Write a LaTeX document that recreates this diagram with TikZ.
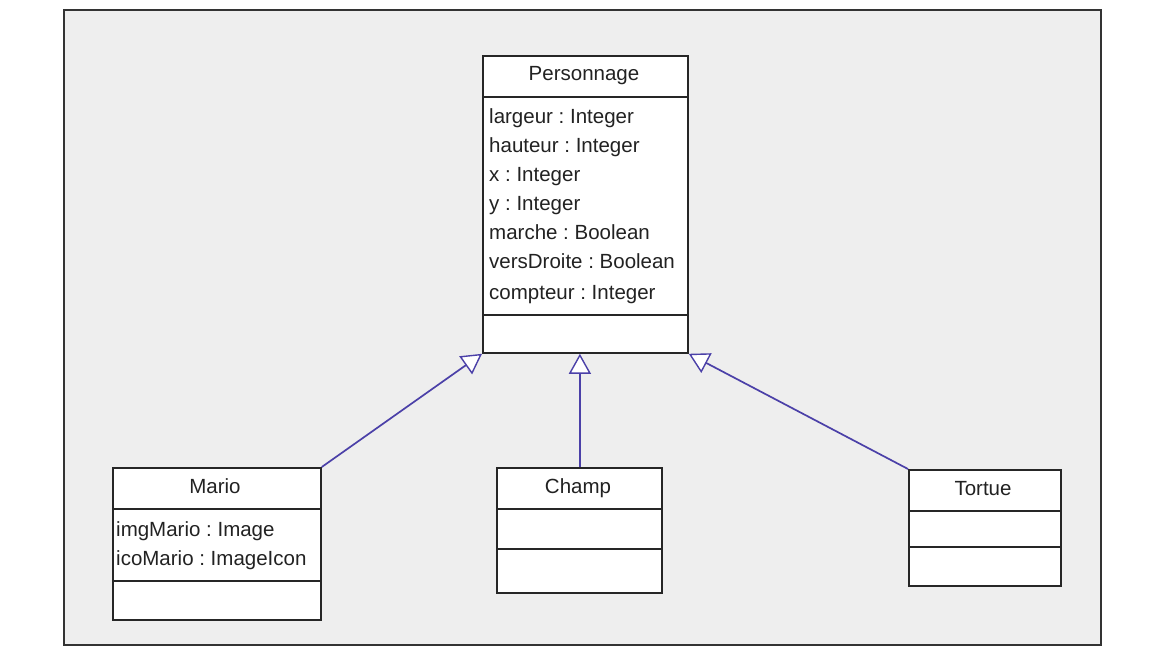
\documentclass[tikz,border=0pt]{standalone}
\usepackage{fontspec}
\setmainfont{Liberation Sans}
\usetikzlibrary{arrows.meta,calc}
\definecolor{panel}{HTML}{EEEEEE}
\definecolor{txt}{HTML}{222222}
\definecolor{link}{HTML}{4B40A8}
\frenchspacing
\tikzset{
  umlbox/.style={draw=black!85, line width=1.8pt, fill=white, anchor=north west, inner sep=0pt},
  divider/.style={draw=black!85, line width=1.6pt},
  title/.style={text=txt, font=\fontsize{20.5}{24}\selectfont, anchor=base, inner sep=0pt},
  attr/.style={text=txt, font=\fontsize{20.5}{24}\selectfont, anchor=base west, inner sep=0pt},
  inherit/.style={draw=link, line width=1.7pt, -{Triangle[length=20pt, width=22pt, fill=white, line width=1.4pt]}}
}
\begin{document}
\begin{tikzpicture}[x=1pt,y=-1pt]
\useasboundingbox (0,0) rectangle (1167,652);
\fill[white] (0,0) rectangle (1167,652);
\draw[fill=panel, draw=black!80, line width=2pt] (64,10) rectangle (1101,645);

% Personnage
\node[umlbox, minimum width=205pt, minimum height=297pt] (pers) at (482,55) {};
\draw[divider] ($(pers.north west)+(0,42)$) -- ($(pers.north east)+(0,42)$);
\draw[divider] ($(pers.north west)+(0,260)$) -- ($(pers.north east)+(0,260)$);
\node[title] (persT) at (584,81) {Personnage};
\node[attr] (p1) at (489,124) {largeur : Integer};
\node[attr] (p2) at (489,153) {hauteur : Integer};
\node[attr] (p3) at (489,182) {x : Integer};
\node[attr] (p4) at (489,211) {y : Integer};
\node[attr] (p5) at (489,240) {marche : Boolean};
\node[attr] (p6) at (489,269) {versDroite : Boolean};
\node[attr] (p7) at (489,299) {compteur : Integer};

% Mario
\node[umlbox, minimum width=208pt, minimum height=152pt] (mario) at (112,467) {};
\draw[divider] ($(mario.north west)+(0,42)$) -- ($(mario.north east)+(0,42)$);
\draw[divider] ($(mario.north west)+(0,114)$) -- ($(mario.north east)+(0,114)$);
\node[title] (marioT) at (215,493) {Mario};
\node[attr] (m1) at (116,536) {imgMario : Image};
\node[attr] (m2) at (116,565) {icoMario : ImageIcon};

% Champ
\node[umlbox, minimum width=165pt, minimum height=125pt] (champ) at (496,467) {};
\draw[divider] ($(champ.north west)+(0,42)$) -- ($(champ.north east)+(0,42)$);
\draw[divider] ($(champ.north west)+(0,82)$) -- ($(champ.north east)+(0,82)$);
\node[title] (champT) at (578,493) {Champ};
\coordinate (champTop) at ($(champ.north)+(0.5,0)$);

% Tortue
\node[umlbox, minimum width=152pt, minimum height=116pt] (tortue) at (908,469) {};
\draw[divider] ($(tortue.north west)+(0,42)$) -- ($(tortue.north east)+(0,42)$);
\draw[divider] ($(tortue.north west)+(0,78)$) -- ($(tortue.north east)+(0,78)$);
\node[title] (tortueT) at (983,495) {Tortue};

% Inheritance
\draw[inherit] (mario.north east) -- (pers.south west);
\draw[inherit] (champTop) -- (champTop |- pers.south);
\draw[inherit] (tortue.north west) -- (pers.south east);
\end{tikzpicture}
\end{document}
